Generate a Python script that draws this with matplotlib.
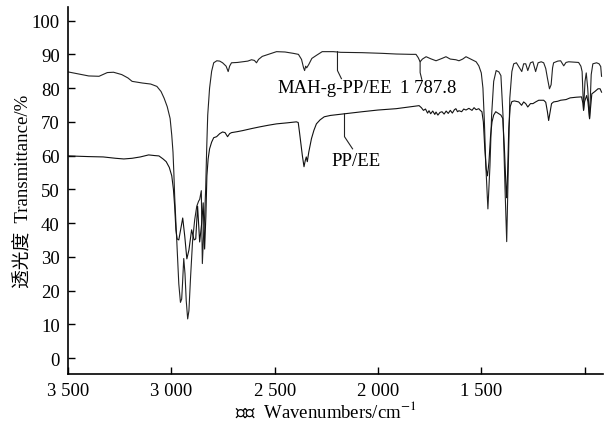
import numpy as np
import matplotlib
matplotlib.use("Agg")
import matplotlib.pyplot as plt

plt.rcParams["font.family"] = ["Liberation Serif", "Noto Sans CJK SC"]
plt.rcParams["mathtext.fontset"] = "stix"

# MAH-g-PP/EE (obere Kurve)
wn_mah = [3500, 3450, 3400, 3350, 3310, 3280, 3240, 3210, 3190, 3140, 3100, 3070,
          3050, 3035, 3020, 3006, 2998, 2992, 2988, 2984, 2978, 2970, 2964, 2956,
          2950, 2946, 2940, 2934, 2928, 2921, 2915, 2907, 2897, 2887, 2877, 2868,
          2863, 2855, 2850, 2845, 2839, 2834, 2829, 2824, 2815, 2805, 2795, 2780,
          2766, 2752, 2735, 2725, 2718, 2709, 2680, 2655, 2630, 2612, 2598, 2588,
          2578, 2560, 2530, 2491, 2450, 2410, 2385, 2370, 2360, 2355, 2350, 2345,
          2335, 2320, 2298, 2270, 2216, 2180, 2076, 1980, 1912, 1840, 1816, 1805,
          1796, 1785, 1767, 1745, 1719, 1690, 1671, 1650, 1623, 1608, 1590, 1574,
          1545, 1525, 1512, 1500, 1492, 1485, 1478, 1468, 1458, 1450, 1440, 1428,
          1415, 1405, 1395, 1385, 1377, 1370, 1362, 1352, 1343, 1330, 1319, 1304,
          1295, 1285, 1275, 1262, 1250, 1237, 1225, 1210, 1198, 1188, 1180, 1170,
          1162, 1155, 1150, 1130, 1116, 1101, 1090, 1077, 1050, 1029, 1018, 1012,
          1005, 998, 992, 985, 976, 968, 960, 942, 930, 922, 918]
t_mah = [84.8, 84.2, 83.6, 83.5, 84.6, 84.7, 84.0, 83.0, 82.0, 81.5, 81.2, 80.5,
         79.0, 77.0, 74.5, 71.0, 66.0, 61.0, 55.0, 48.0, 40.0, 30.0, 22.0, 16.5,
         17.5, 22.0, 29.5, 25.0, 17.0, 11.6, 14.0, 24.0, 35.0, 41.0, 45.0, 46.5,
         47.0, 49.6, 28.0, 35.0, 42.0, 50.0, 62.0, 72.0, 80.0, 85.0, 87.5, 88.1,
         88.0, 87.5, 86.5, 84.9, 86.5, 87.5, 87.6, 87.8, 88.0, 88.4, 88.2, 87.5,
         88.5, 89.4, 90.0, 90.8, 90.7, 90.3, 90.0, 88.5, 86.0, 85.2, 86.5, 86.0,
         87.0, 88.8, 89.7, 90.8, 90.8, 90.6, 90.5, 90.3, 90.1, 90.0, 90.0, 89.0,
         87.8, 88.6, 89.3, 88.7, 88.1, 88.8, 89.3, 88.6, 88.4, 88.1, 88.6, 89.3,
         88.4, 87.8, 86.6, 84.5, 80.0, 70.0, 57.0, 44.2, 57.0, 72.0, 82.0, 85.2,
         84.8, 83.7, 72.0, 50.0, 34.5, 55.0, 77.0, 84.9, 87.2, 87.5, 86.4, 84.9,
         87.2, 87.2, 85.2, 87.5, 87.8, 84.9, 87.5, 87.8, 87.5, 85.8, 83.0, 79.8,
         81.0, 86.0, 87.5, 88.0, 88.1, 86.6, 87.6, 87.8, 87.7, 87.6, 86.5, 84.9,
         73.5, 82.0, 84.5, 80.0, 71.0, 84.0, 87.2, 87.5, 87.2, 86.4, 83.5]

# PP/EE (untere Kurve)
wn_pp = [3500, 3450, 3400, 3330, 3270, 3230, 3190, 3150, 3110, 3080, 3060, 3040,
         3025, 3010, 2998, 2990, 2984, 2978, 2972, 2964, 2955, 2945, 2935, 2925,
         2915, 2902, 2890, 2882, 2873, 2863, 2853, 2846, 2839, 2833, 2828, 2822,
         2815, 2805, 2795, 2781, 2766, 2752, 2740, 2728, 2718, 2709, 2680, 2655,
         2612, 2573, 2530, 2491, 2440, 2395, 2386, 2380, 2372, 2366, 2358, 2352,
         2347, 2342, 2335, 2322, 2310, 2298, 2280, 2260, 2230, 2202, 2150, 2076,
         2000, 1912, 1850, 1801, 1790, 1780, 1770, 1760, 1753, 1745, 1735, 1725,
         1719, 1710, 1700, 1690, 1680, 1670, 1660, 1650, 1640, 1630, 1623, 1615,
         1608, 1595, 1585, 1574, 1560, 1545, 1535, 1525, 1512, 1505, 1497, 1490,
         1483, 1476, 1470, 1463, 1455, 1448, 1440, 1430, 1420, 1405, 1396, 1388,
         1380, 1377, 1372, 1367, 1360, 1352, 1340, 1319, 1305, 1295, 1285, 1275,
         1262, 1250, 1237, 1222, 1198, 1188, 1180, 1174, 1168, 1160, 1150, 1130,
         1116, 1090, 1070, 1040, 1015, 1008, 1005, 1000, 990, 984, 976, 970,
         965, 950, 935, 925, 918]
t_pp = [59.9, 59.8, 59.7, 59.6, 59.2, 59.0, 59.2, 59.6, 60.2, 60.0, 59.9, 59.0,
        58.2, 56.5, 54.0, 50.0, 45.0, 38.0, 35.3, 35.0, 38.0, 41.5, 36.0, 29.4,
        32.0, 38.0, 35.0, 35.3, 45.0, 34.4, 40.0, 46.0, 32.3, 42.0, 54.0, 59.0,
        62.0, 64.0, 65.3, 65.6, 66.5, 67.0, 66.8, 65.6, 66.5, 66.8, 67.1, 67.4,
        68.0, 68.5, 69.0, 69.4, 69.7, 70.0, 69.8, 67.0, 63.0, 60.0, 56.7, 58.5,
        59.6, 58.2, 61.0, 65.0, 67.5, 69.4, 70.6, 71.5, 71.9, 72.1, 72.5, 73.0,
        73.5, 73.9, 74.4, 74.8, 74.2, 73.4, 73.8, 72.6, 73.3, 72.4, 73.2, 72.2,
        72.9, 72.0, 72.8, 73.0, 72.3, 73.2, 72.5, 73.4, 72.6, 73.6, 73.9, 73.0,
        73.3, 73.0, 73.8, 73.5, 74.0, 73.4, 74.2, 73.6, 73.9, 73.4, 73.0, 70.0,
        62.0, 56.0, 54.0, 58.0, 66.0, 70.0, 72.0, 73.0, 72.6, 72.0, 71.0, 62.0,
        50.0, 47.5, 56.0, 68.0, 74.5, 76.0, 76.2, 75.9, 74.9, 75.9, 75.4, 74.4,
        75.4, 75.4, 75.9, 76.4, 76.4, 75.8, 73.0, 70.4, 72.5, 75.4, 75.9, 76.1,
        76.4, 76.6, 77.1, 77.3, 77.4, 75.5, 73.4, 76.0, 77.8, 76.0, 70.9, 75.0,
        78.3, 79.0, 79.8, 79.8, 78.8]

# Beschriftungen mit Hinweislinien
labels = ["MAH-g-PP/EE", "1 787.8", "PP/EE"]
label_pos = [(2208, 80.3), (1758, 80.3), (2105, 58.4)]
leader_x = [[2196, 2196, 2177], [1796, 1796, 1788], [2162, 2162, 2123]]
leader_y = [[90.8, 85.2, 82.8], [87.8, 84.6, 82.6], [72.4, 65.6, 62.0]]

x_ticks = [3500, 3000, 2500, 2000, 1500, 1000]
x_ticklabels = ["3 500", "3 000", "2 500", "2 000", "1 500", ""]
y_ticks = list(range(0, 101, 10))

fig = plt.figure(figsize=(6.13, 4.27), dpi=100)
ax = fig.add_axes([0.111, 0.122, 0.873, 0.859])

ax.plot(wn_mah, t_mah, color="#222222", lw=0.8)
ax.plot(wn_pp, t_pp, color="#111111", lw=0.8)

for lx, ly in zip(leader_x, leader_y):
    ax.plot(lx, ly, color="#222222", lw=0.8)
for txt, (px, py) in zip(labels, label_pos):
    ax.text(px, py, txt, fontsize=13.5, ha="center", va="center")

ax.set_xlim(3500, 910)
ax.set_ylim(-4.7, 104)
ax.set_xticks(x_ticks)
ax.set_xticklabels(x_ticklabels)
ax.set_yticks(y_ticks)
ax.tick_params(direction="in", length=5, width=1, labelsize=13.5, pad=6)

for side in ["top", "right"]:
    ax.spines[side].set_visible(False)
for side in ["left", "bottom"]:
    ax.spines[side].set_linewidth(1.2)

ax.set_xlabel("波数  Wavenumbers/cm$^{-1}$", fontsize=13.5)
ax.set_ylabel("透光度  Transmittance/%", fontsize=13.5)
ax.xaxis.set_label_coords(0.482, -0.072)
ax.yaxis.set_label_coords(-0.066, 0.5)

fig.savefig("out.png", dpi=100)
